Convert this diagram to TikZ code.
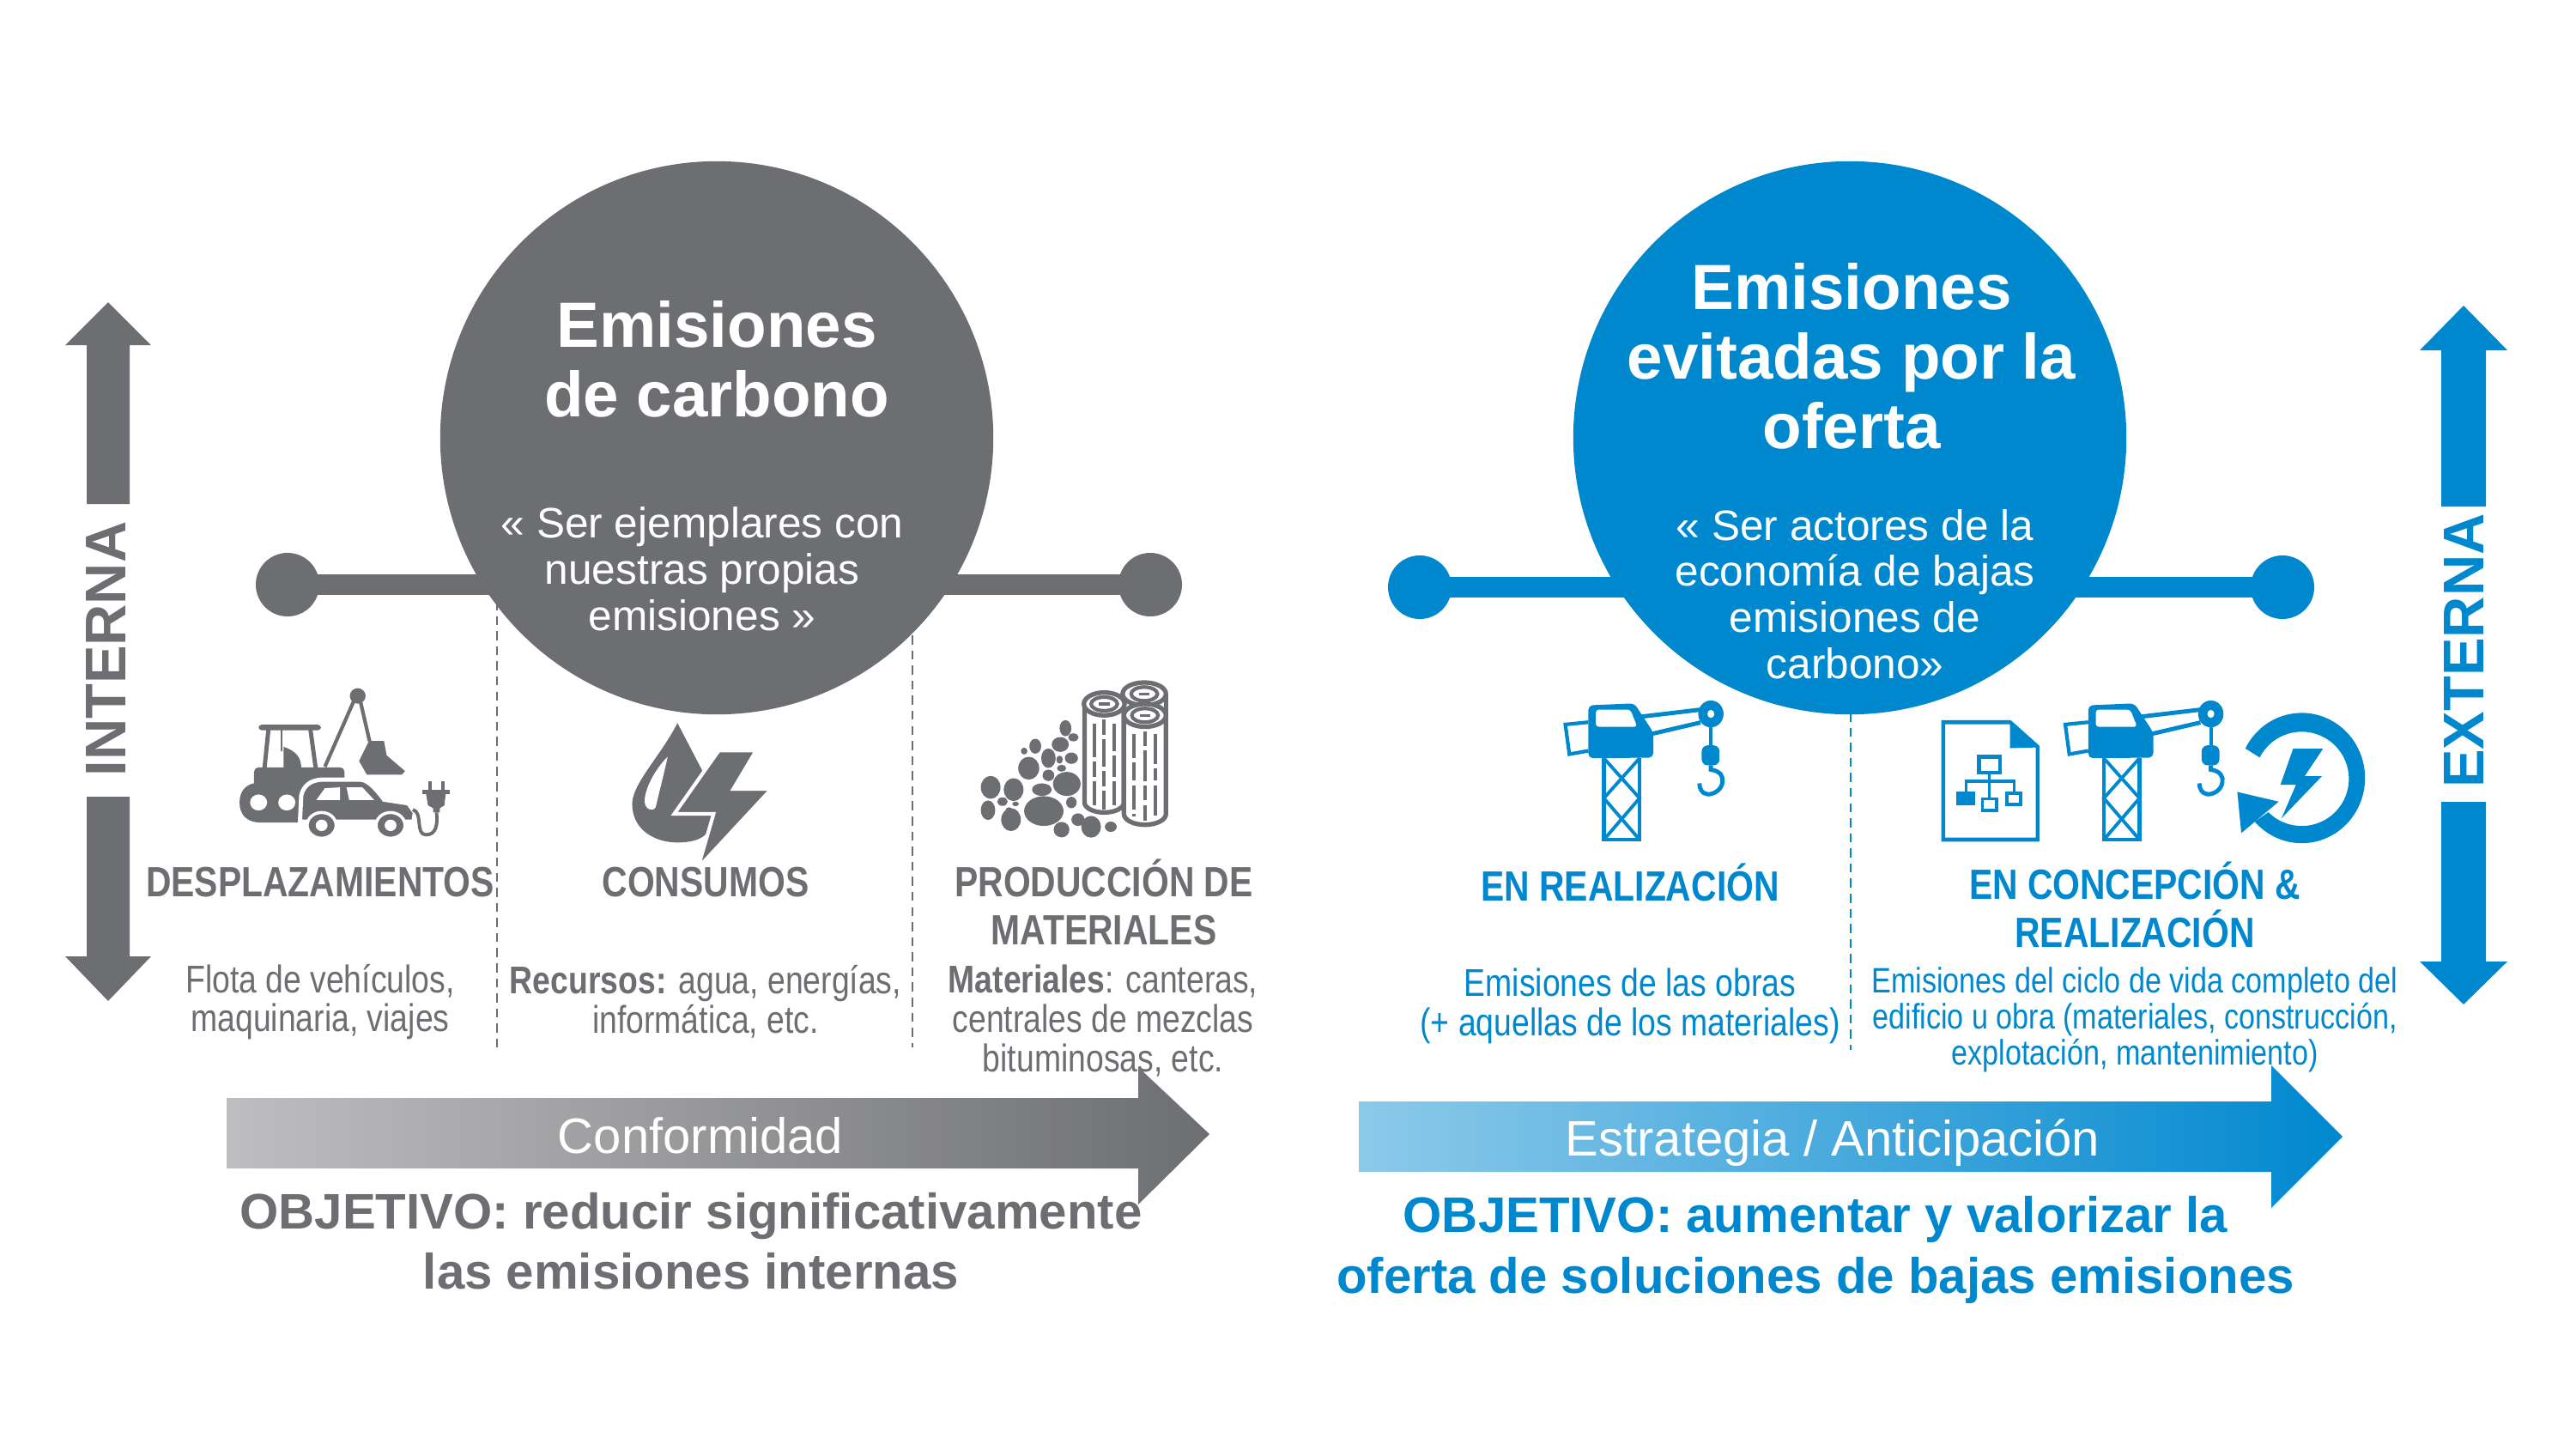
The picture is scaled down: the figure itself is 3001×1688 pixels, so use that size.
\documentclass[tikz,border=0pt]{standalone}
\usepackage{fontspec}
\setmainfont{Liberation Sans}
\newfontfamily\narrowfont[FakeStretch=0.83]{Liberation Sans}
\definecolor{cgray}{HTML}{6D6E71}
\definecolor{cblue}{HTML}{0088CF}
\tikzset{
    titletxt/.style={text=white, align=center, font=\fontsize{21.2}{23}\selectfont\bfseries},
    quotetxt/.style={text=white, align=center, font=\fontsize{14.1}{15.3}\selectfont},
    headtxt/.style={align=center, font=\fontsize{14}{15.9}\selectfont\narrowfont\bfseries},
    bodytxt/.style={align=center, font=\fontsize{12.8}{13}\selectfont\narrowfont},
    goaltxt/.style={align=center, font=\fontsize{16.55}{20}\selectfont\bfseries},
    flowtxt/.style={text=white, font=\fontsize{16.5}{18}\selectfont},
    sidetxt/.style={rotate=90, font=\fontsize{19}{21}\selectfont\bfseries},
    dot/.style={circle, fill=#1, inner sep=0pt, minimum size=0.74cm},
    bigcircle/.style={circle, fill=#1, inner sep=0pt, minimum size=6.44cm},
    bar/.style={line width=7.1pt, shorten <=-3pt, shorten >=-3pt},
    sep/.style={line width=0.4pt, dash pattern=on 3pt off 2pt}
}
\newcommand{\drawcrane}[1]{
    \begin{scope}[shift={(#1,0)}]
    \fill[rounded corners=1.5pt] (105,125) -- (185,118) -- (218,220) -- (218,308) -- (105,310) -- cycle;
    \fill[white, rounded corners=1pt] (118,140) -- (178,140) -- (190,200) -- (118,200) -- cycle;
    \draw[line width=1.2pt] (105,184) -- (65,192) -- (72,296) -- (105,284);
    \draw[line width=1.4pt] (195,165) -- (300,140);
    \draw[line width=1.4pt] (215,225) -- (300,185);
    \fill (318,155) ellipse[x radius=22, y radius=47];
    \fill[white] (318,155) ellipse[x radius=6, y radius=14];
    \draw[line width=1.1pt] (318,200) -- (318,270);
    \fill[rounded corners=2pt] (302,265) rectangle (333,335);
    \draw[line width=1.4pt] (318,335) -- (318,350) .. controls (335,355) and (340,375) .. (338,395) .. controls (336,425) and (320,438) .. (312,436) .. controls (302,434) and (298,415) .. (298,398);
    \draw[line width=1.3pt] (132,310) -- (132,595) -- (194,595) -- (194,310);
    \draw[line width=1.1pt] (132,310) -- (194,450) -- (132,595);
    \draw[line width=1.1pt] (194,310) -- (132,450) -- (194,595);
    \end{scope}
}

\begin{document}
\begin{tikzpicture}[x=0.01cm, y=-0.01cm]
    \useasboundingbox (0,0) rectangle (3001,1688);

    % izquierda: flecha vertical
    \fill[cgray] (126,352) -- (176,402) -- (151,402) -- (151,587) -- (101,587) -- (101,402) -- (76,402) -- cycle;
    \fill[cgray] (126,1166) -- (176,1114) -- (151,1114) -- (151,928) -- (101,928) -- (101,1114) -- (76,1114) -- cycle;
    \node[sidetxt, text=cgray] (interna) at (124,756) {INTERNA};

    % izquierda: barra y circulo
    \node[dot=cgray] (gdotl) at (335,681) {};
    \node[dot=cgray] (gdotr) at (1340,681) {};
    \draw[bar, cgray] (gdotl) -- (gdotr);
    \coordinate (gsep1t) at (579,700);
    \coordinate (gsep1b) at (579,1220);
    \coordinate (gsep2t) at (1063,740);
    \coordinate (gsep2b) at (1063,1220);
    \draw[sep, cgray] (gsep1t) -- (gsep1b);
    \draw[sep, cgray] (gsep2t) -- (gsep2b);
    \node[bigcircle=cgray] (gcirc) at (835,510) {};
    \node[titletxt] (gtitle) at (835,418) {Emisiones\\de carbono};
    \node[quotetxt] (gquote) at (818,663) {« Ser ejemplares con\\nuestras propias\\emisiones »};

    % tractor y coche
    \begin{scope}[shift={(250,780)}, x=0.00765cm, y=-0.00333cm, fill=cgray, draw=cgray]
    \fill[rounded corners=1pt] (67,193) rectangle (162,212);
    \draw[line width=1.4pt] (82,210) -- (76,345);
    \draw[line width=0.8pt] (102,210) -- (102,285);
    \draw[line width=1.4pt] (146,210) -- (154,345);
    \fill (105,270) .. controls (125,285) and (132,310) .. (132,345) -- (105,345) -- cycle;
    \fill[rounded corners=1.5pt] (60,342) rectangle (198,410);
    \fill (38,465) .. controls (38,420) and (50,395) .. (70,395) -- (140,395) -- (140,535) -- (70,535) .. controls (50,535) and (38,510) .. (38,465);
    \fill[white] (67,465) ellipse[x radius=13, y radius=28];
    \fill[white] (110,465) ellipse[x radius=13, y radius=28];
    \draw[line width=1.2pt] (212,110) -- (168,340);
    \draw[line width=1.2pt] (222,110) -- (236,250);
    \fill (218,92) ellipse[x radius=12, y radius=27];
    \fill (235,250) -- (258,250) -- (262,300) -- (290,355) -- (285,368) -- (232,368) -- (220,320) -- cycle;
    \filldraw[draw=white, line width=1.4pt] (130,532) -- (132,440) .. controls (135,410) and (145,385) .. (165,385) -- (222,385) .. controls (235,385) and (250,430) .. (258,455) -- (295,468) -- (305,500) -- (303,532) -- cycle;
    \filldraw[draw=white, line width=1pt] (163,545) ellipse[x radius=22, y radius=45];
    \filldraw[draw=white, line width=1pt] (268,545) ellipse[x radius=22, y radius=45];
    \fill[white] (163,545) ellipse[x radius=9, y radius=20];
    \fill[white] (268,545) ellipse[x radius=9, y radius=20];
    \fill[white] (155,456) -- (168,415) -- (191,412) -- (191,456) -- cycle;
    \fill[white] (201,412) -- (225,412) -- (243,456) -- (205,456) -- cycle;
    \fill (325,390) rectangle (331,425);
    \fill (345,390) rectangle (351,425);
    \fill (316,422) rectangle (358,435);
    \fill (322,435) -- (352,435) -- (350,475) -- (343,485) -- (343,500) -- (333,500) -- (333,485) -- (325,475) -- cycle;
    \draw[line width=1.1pt] (338,500) .. controls (340,540) and (338,578) .. (322,578) .. controls (305,578) and (318,500) .. (302,490);
    \end{scope}

    % gota y rayo
    \begin{scope}[shift={(250,780)}, x=0.00765cm, y=-0.00333cm, fill=cgray, draw=cgray]
    \fill (705,187) .. controls (680,300) and (636,400) .. (636,470) .. controls (636,560) and (670,605) .. (705,605) .. controls (730,605) and (750,590) .. (755,550) -- (760,500) -- (742,350) -- cycle;
    \fill[white] (690,305) .. controls (670,350) and (655,420) .. (655,460) .. controls (655,490) and (668,500) .. (672,480) .. controls (678,420) and (685,360) .. (690,305);
    \filldraw[draw=white, line width=1.2pt] (768,283) -- (825,283) -- (790,418) -- (848,418) -- (736,695) -- (760,505) -- (700,505) -- cycle;
    \end{scope}

    % troncos y piedras
    \begin{scope}[shift={(250,780)}, x=0.00765cm, y=-0.00333cm, fill=cgray, draw=cgray]
    \filldraw[fill=white, line width=1.5pt] (1416,85) ellipse[x radius=33, y radius=40];
    \filldraw[fill=white, line width=1.2pt] (1416,85) ellipse[x radius=20, y radius=24];
    \draw[line width=1.5pt] (1449,85) -- (1449,160);
    \draw[line width=1pt] (1408,85) -- (1424,85);
    \filldraw[fill=white, line width=1.5pt] (1325,120) -- (1325,465) arc[start angle=180, end angle=0, x radius=30, y radius=35] -- (1385,120) -- cycle;
    \filldraw[fill=white, line width=1.5pt] (1355,120) ellipse[x radius=31, y radius=40];
    \filldraw[fill=white, line width=1.2pt] (1355,120) ellipse[x radius=20, y radius=24];
    \draw[line width=1pt] (1347,120) -- (1363,120);
    \draw[line width=1.1pt, dash pattern=on 11pt off 1.5pt on 5pt off 1.5pt] (1340,190) -- (1340,475);
    \draw[line width=1.1pt, dash pattern=on 5pt off 1.5pt on 9pt off 1.5pt] (1355,175) -- (1355,490);
    \draw[line width=1.1pt, dash pattern=on 9pt off 1.5pt on 7pt off 1.5pt] (1370,190) -- (1370,475);
    \filldraw[fill=white, line width=1.5pt] (1385,160) -- (1385,505) arc[start angle=180, end angle=0, x radius=32, y radius=38] -- (1449,160) -- cycle;
    \filldraw[fill=white, line width=1.5pt] (1417,160) ellipse[x radius=32, y radius=40];
    \filldraw[fill=white, line width=1.2pt] (1417,160) ellipse[x radius=20, y radius=24];
    \draw[line width=1pt] (1409,160) -- (1425,160);
    \draw[line width=1.1pt, dash pattern=on 8pt off 1.5pt on 6pt off 1.5pt] (1400,225) -- (1400,515);
    \draw[line width=1.1pt, dash pattern=on 5pt off 1.5pt on 10pt off 1.5pt] (1417,215) -- (1417,530);
    \draw[line width=1.1pt, dash pattern=on 10pt off 1.5pt on 4pt off 1.5pt] (1433,225) -- (1433,515);
    \fill (1296,205) ellipse[x radius=9, y radius=28] (1308,237) ellipse[x radius=8, y radius=14]
        (1288,262) ellipse[x radius=13, y radius=26] (1250,268) ellipse[x radius=9, y radius=26]
        (1233,285) ellipse[x radius=5, y radius=12] (1270,310) ellipse[x radius=11, y radius=34]
        (1305,310) ellipse[x radius=10, y radius=20] (1287,315) ellipse[x radius=5, y radius=14]
        (1240,345) ellipse[x radius=16, y radius=40] (1290,345) ellipse[x radius=7, y radius=12]
        (1270,370) ellipse[x radius=9, y radius=20] (1298,400) ellipse[x radius=21, y radius=42]
        (1260,420) ellipse[x radius=15, y radius=22] (1182,412) ellipse[x radius=15, y radius=40]
        (1217,420) ellipse[x radius=15, y radius=40] (1263,495) ellipse[x radius=30, y radius=52]
        (1305,465) ellipse[x radius=8, y radius=20] (1200,462) ellipse[x radius=8, y radius=15]
        (1178,492) ellipse[x radius=11, y radius=34] (1213,525) ellipse[x radius=15, y radius=40]
        (1290,560) ellipse[x radius=12, y radius=27] (1315,525) ellipse[x radius=10, y radius=22]
        (1335,550) ellipse[x radius=15, y radius=38] (1365,550) ellipse[x radius=9, y radius=18]
        (1220,470) ellipse[x radius=5, y radius=8] (1210,490) ellipse[x radius=5, y radius=8];
    \end{scope}

    % izquierda: textos
    \node[headtxt, text=cgray] (desphead) at (373,1028) {DESPLAZAMIENTOS};
    \node[headtxt, text=cgray] (conshead) at (822,1028) {CONSUMOS};
    \node[headtxt, text=cgray] (prodhead) at (1286,1051) {PRODUCCIÓN DE\\MATERIALES};
    \node[bodytxt, text=cgray] (despbody) at (373,1167) {Flota de vehículos,\\maquinaria, viajes};
    \node[bodytxt, text=cgray] (consbody) at (822,1167) {\textbf{Recursos:} agua, energías,\\informática, etc.};
    \node[bodytxt, text=cgray] (prodbody) at (1285,1189) {\textbf{Materiales}: canteras,\\centrales de mezclas\\bituminosas, etc.};

    \shade[left color=cgray!45, right color=cgray, shading angle=90] (264,1279) -- (1326,1279) -- (1326,1243) -- (1409,1321) -- (1326,1403) -- (1326,1361) -- (264,1361) -- cycle;
    \node[flowtxt] (gflow) at (816,1323) {Conformidad};
    \node[goaltxt, text=cgray] (ggoal) at (805,1446) {OBJETIVO: reducir significativamente\\las emisiones internas};

    % derecha: flecha vertical
    \fill[cblue] (2870,356) -- (2921,408) -- (2896,408) -- (2896,590) -- (2844,590) -- (2844,408) -- (2819,408) -- cycle;
    \fill[cblue] (2870,1170) -- (2921,1120) -- (2896,1120) -- (2896,934) -- (2844,934) -- (2844,1120) -- (2819,1120) -- cycle;
    \node[sidetxt, text=cblue] (externa) at (2870,758) {EXTERNA};

    % derecha: barra y circulo
    \node[dot=cblue] (bdotl) at (1654,684) {};
    \node[dot=cblue] (bdotr) at (2659,684) {};
    \draw[bar, cblue] (bdotl) -- (bdotr);
    \coordinate (bsept) at (2156,830);
    \coordinate (bsepb) at (2156,1223);
    \draw[sep, cblue] (bsept) -- (bsepb);
    \node[bigcircle=cblue] (bcirc) at (2155,510) {};
    \node[titletxt] (btitle) at (2157,415) {Emisiones\\evitadas por la\\oferta};
    \node[quotetxt] (bquote) at (2161,692) {« Ser actores de la\\economía de bajas\\emisiones de\\carbono»};

    % gruas, documento y ciclo
    \begin{scope}[shift={(1780,780)}, x=0.0067cm, y=-0.00333cm, fill=cblue, draw=cblue]
    \drawcrane{0}
    \drawcrane{869}
    \filldraw[fill=white, line width=1.3pt] (722,184) -- (838,184) -- (886,270) -- (886,595) -- (722,595) -- cycle;
    \fill (838,182) -- (888,272) -- (838,275) -- cycle;
    \draw[line width=1.2pt] (784,305) rectangle (820,360);
    \draw[line width=1pt] (802,362) -- (802,450);
    \draw[line width=1pt] (762,430) -- (762,390) -- (845,390) -- (845,430);
    \fill (745,428) rectangle (777,475);
    \draw[line width=1.1pt] (790,452) rectangle (815,493);
    \draw[line width=1.1pt] (832,432) rectangle (856,473);
    \fill (1247,276) arc[start angle=207, end angle=498, x radius=110, y radius=228] -- (1287,499) arc[start angle=135, end angle=-153, x radius=82, y radius=165] -- cycle;
    \fill (1233,428) -- (1305,462) -- (1240,572) -- cycle;
    \fill (1330,277) -- (1382,277) -- (1350,373) -- (1380,373) -- (1310,520) -- (1335,403) -- (1308,403) -- cycle;
    \end{scope}

    % derecha: textos
    \node[headtxt, text=cblue] (realhead) at (1899,1028) {EN REALIZACIÓN};
    \node[headtxt, text=cblue] (conchead) at (2487,1054) {EN CONCEPCIÓN \&\\REALIZACIÓN};
    \node[bodytxt, text=cblue] (realbody) at (1899,1172) {Emisiones de las obras\\(+ aquellas de los materiales)};
    \node[bodytxt, text=cblue, font=\fontsize{11.7}{11.9}\selectfont\narrowfont] (concbody) at (2487,1188) {Emisiones del ciclo de vida completo del\\edificio u obra (materiales, construcción,\\explotación, mantenimiento)};

    \shade[left color=cblue!45, right color=cblue, shading angle=90] (1583,1283) -- (2646,1283) -- (2646,1241) -- (2729,1324) -- (2646,1407) -- (2646,1365) -- (1583,1365) -- cycle;
    \node[flowtxt] (bflow) at (2135,1331) {Estrategia / Anticipación};
    \node[goaltxt, text=cblue] (bgoal) at (2115,1456) {OBJETIVO: aumentar y valorizar la\\oferta de soluciones de bajas emisiones};
\end{tikzpicture}
\end{document}
